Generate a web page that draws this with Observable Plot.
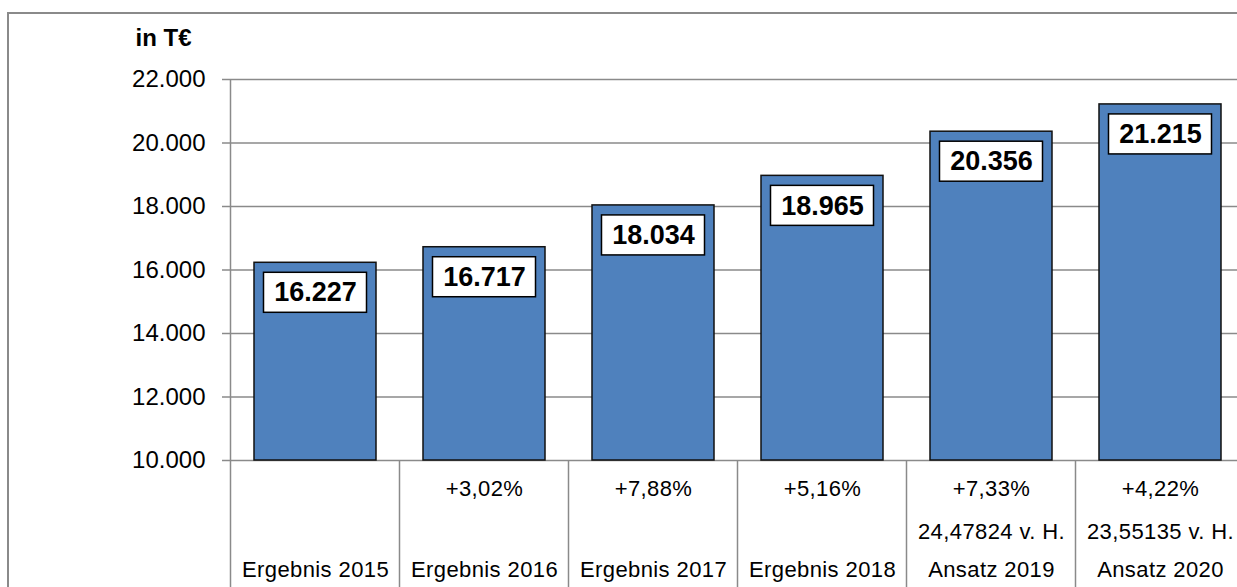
<!DOCTYPE html>
<html>
<head>
<meta charset="utf-8">
<script src="https://cdn.jsdelivr.net/npm/d3@7"></script>
<script src="https://cdn.jsdelivr.net/npm/@observablehq/plot@0.6"></script>
<style>
  html, body { margin: 0; padding: 0; background: #fff; overflow: hidden; }
  svg { display: block; }
</style>
</head>
<body>
<div id="chart"></div>
<script>
// ---- data ----
const categories = ["Ergebnis 2015", "Ergebnis 2016", "Ergebnis 2017", "Ergebnis 2018", "Ansatz 2019", "Ansatz 2020"];
const values = [16227, 16717, 18034, 18965, 20356, 21215];
const changes = ["", "+3,02%", "+7,88%", "+5,16%", "+7,33%", "+4,22%"];
const shares = ["", "", "", "", "24,47824 v. H.", "23,55135 v. H."];
const yTicks = [10000, 12000, 14000, 16000, 18000, 20000, 22000];
const yMin = 10000, yMax = 22000;
const unitLabel = "in T€";

const de = d3.formatLocale({decimal: ",", thousands: ".", grouping: [3], currency: ["", " €"]});
const fmt = de.format(",d");

const data = categories.map((c, i) => ({cat: c, value: values[i], change: changes[i], share: shares[i], base: yMin}));

const FONT = "'Liberation Sans', Arial, sans-serif";
const GRID = "#8a8a8a";

const chart = Plot.plot({
  width: 1237,
  height: 587,
  marginLeft: 230,
  marginRight: 0,
  marginTop: 79,
  marginBottom: 127,
  style: {fontFamily: FONT, background: "#fff", overflow: "visible"},
  x: {domain: categories, range: [230, 1244], paddingInner: 0.28, paddingOuter: 0.14, axis: null},
  y: {domain: [yMin, yMax], axis: null},
  marks: [
    Plot.gridY(yTicks, {stroke: GRID, strokeOpacity: 1, strokeWidth: 1.5}),
    Plot.axisY(yTicks, {tickSize: 8, tickPadding: 17, tickFormat: fmt, fontSize: 24, stroke: GRID, strokeWidth: 1.5, color: "#000", label: null}),
    Plot.barY(data, {x: "cat", y1: "base", y2: "value", fill: "#4f81bd", stroke: "#111", strokeWidth: 1.5}),
    Plot.barY(data, {x: "cat", y1: "value", y2: "value", fill: "#fff", stroke: "#000", strokeWidth: 1.5, insetLeft: 9.5, insetRight: 9.5, insetTop: 10, insetBottom: -50}),
    Plot.text(data, {x: "cat", y: "value", text: d => fmt(d.value), dy: 30, fontSize: 27, fontWeight: "bold", fill: "#000", lineAnchor: "middle"}),
    Plot.text(data, {x: "cat", text: "change", frameAnchor: "bottom", dy: 28, fontSize: 22, fill: "#000", lineAnchor: "middle"}),
    Plot.text(data, {x: "cat", text: "share", frameAnchor: "bottom", dy: 71, fontSize: 22, fill: "#000", lineAnchor: "middle"}),
    Plot.text(data, {x: "cat", text: "cat", frameAnchor: "bottom", dy: 109, fontSize: 22, fill: "#000", lineAnchor: "middle"}),
    Plot.text([unitLabel], {frameAnchor: "top-left", dx: -95, dy: -41, fontSize: 24, fontWeight: "bold", textAnchor: "start", fill: "#000", lineAnchor: "middle"})
  ]
});

// letter spacing for table texts, y axis line, table dividers and outer frame
const svg = d3.select(chart);
svg.selectAll("g[aria-label='text'] text").filter(function() { return +this.parentNode.getAttribute("font-size") === 22; }).attr("letter-spacing", "0.4px");
const xs = chart.scale("x"), ys = chart.scale("y");
const gap = (xs.step - xs.bandwidth) / 2;
const y0 = ys.apply(yMin), yTop = ys.apply(yMax);
const divs = categories.map(c => xs.apply(c) - gap).concat([xs.apply(categories[categories.length - 1]) + xs.bandwidth + gap]);
svg.append("line").attr("x1", divs[0]).attr("x2", divs[0]).attr("y1", yTop).attr("y2", y0).attr("stroke", GRID).attr("stroke-width", 1.5);
svg.append("g").selectAll("line").data(divs).join("line")
  .attr("x1", d => d).attr("x2", d => d).attr("y1", y0).attr("y2", 587)
  .attr("stroke", GRID).attr("stroke-width", 1.5);
svg.append("rect").attr("x", 8).attr("y", 13).attr("width", 1400).attr("height", 800)
  .attr("fill", "none").attr("stroke", GRID).attr("stroke-width", 2);

document.getElementById("chart").appendChild(chart);
</script>
</body>
</html>
